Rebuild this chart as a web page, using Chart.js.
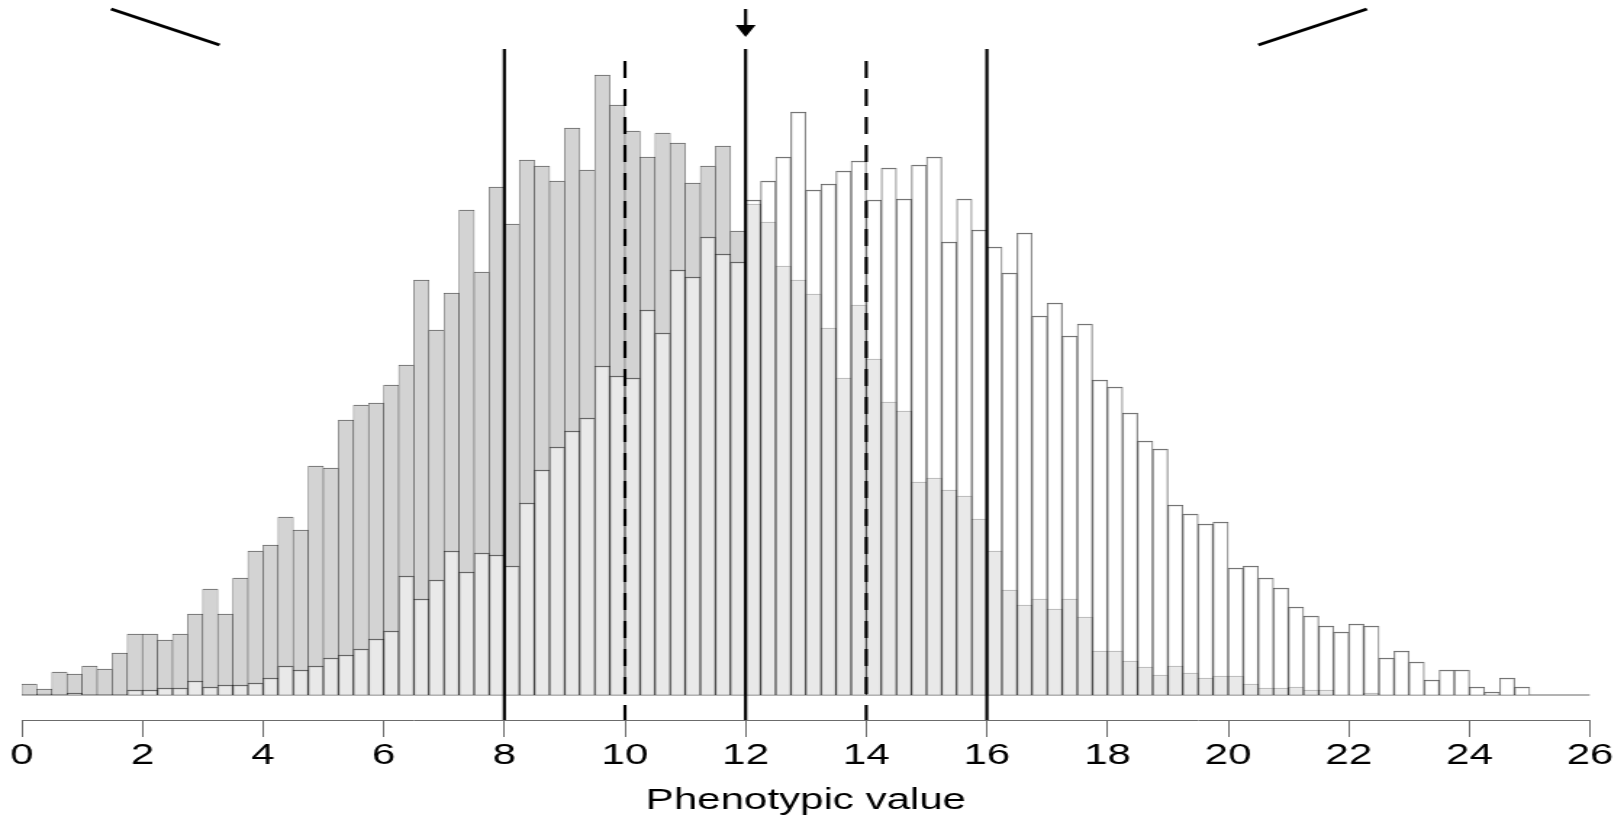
<!DOCTYPE html>
<html lang="en">
<head>
<meta charset="UTF-8">
<title>Phenotypic value</title>
<script src="https://cdn.jsdelivr.net/npm/chart.js"></script>
<style>
  html, body { margin: 0; padding: 0; background: #fff; }
</style>
</head>
<body>
<!-- the figure is stretched sideways, so draw narrow and widen with css -->
<canvas id="chart" width="1120" height="819" style="display:block;width:1624px;height:819px"></canvas>
<script>
// histogram bins, 0.25 wide, from 0 to 26
const binWidth = 0.25;

// grey population (left)
const groupLow = [
  11, 6, 23, 21, 29, 26, 42, 61, 61, 55, 61, 81, 106, 81, 117, 144, 150, 178, 165, 229,
  227, 275, 290, 292, 310, 330, 415, 365, 402, 485, 423, 508, 471, 535, 529, 514, 567, 525, 620, 590,
  564, 538, 562, 552, 512, 529, 549, 464, 491, 473, 429, 415, 401, 367, 317, 390, 336, 293, 284, 213,
  217, 205, 199, 176, 144, 105, 90, 96, 86, 96, 78, 44, 44, 34, 28, 20, 29, 22, 17, 19,
  19, 11, 7, 7, 8, 5, 5, 0, 0, 2, 0, 0, 0, 0, 0, 0, 0, 0, 0, 0,
  0, 0, 0, 0
];

// white population (right)
const groupHigh = [
  0, 1, 0, 2, 0, 0, 0, 5, 5, 7, 7, 14, 8, 10, 10, 12, 17, 29, 25, 29,
  37, 40, 46, 56, 64, 119, 96, 115, 144, 123, 142, 140, 129, 192, 225, 248, 264, 277, 329, 319,
  317, 385, 362, 425, 418, 458, 441, 433, 495, 514, 538, 583, 505, 511, 524, 534, 495, 527, 496, 530,
  538, 453, 496, 465, 448, 422, 462, 379, 392, 359, 371, 315, 308, 282, 254, 246, 190, 181, 171, 173,
  127, 129, 117, 107, 88, 79, 69, 63, 71, 69, 37, 44, 33, 15, 25, 25, 8, 3, 17, 8,
  0, 0, 0, 0
];

const xTicks = [0, 26, 2];           // min, max, step
const solidCuts = [8, 12, 16];
const dashedCuts = [10, 14];
const arrowAt = 12;

// heights in the same units as the counts
const floorY = -25;
const topY = 695;
const solidTop = 646;
const dashedTop = 634;
const arrowFrom = 686;
const arrowTo = 666;
const leftSlash = [[1.48, 686], [3.28, 650]];
const rightSlash = [[20.5, 650], [22.3, 686]];

const binCenters = groupLow.map((_, i) => (i + 0.5) * binWidth);
const toPoints = (vals) => vals.map((v, i) => ({ x: binCenters[i], y: v }));

const barEdge = 'rgba(0,0,0,0.62)';
const barBorder = { top: 1, left: 0.6, right: 0.6, bottom: 0 };

function vline(x, top, dash) {
  return {
    type: 'line',
    data: [{ x: x, y: top }, { x: x, y: floorY }],
    borderColor: '#000',
    borderWidth: 2.2,
    borderDash: dash,
    borderCapStyle: 'butt',
    pointRadius: 0,
    order: 0
  };
}

function slash(pts) {
  return {
    type: 'line',
    data: pts.map(p => ({ x: p[0], y: p[1] })),
    borderColor: '#000',
    borderWidth: 3,
    pointRadius: 0,
    order: 0
  };
}

const datasets = [
  {
    label: 'low',
    data: toPoints(groupLow),
    backgroundColor: '#d3d3d3',
    borderColor: barEdge,
    borderWidth: barBorder,
    grouped: false,
    barPercentage: 1,
    categoryPercentage: 1,
    order: 2
  },
  {
    label: 'high',
    data: toPoints(groupHigh),
    backgroundColor: 'rgba(255,255,255,0.5)',
    borderColor: barEdge,
    borderWidth: barBorder,
    grouped: false,
    barPercentage: 1,
    categoryPercentage: 1,
    order: 1
  },
  {
    type: 'line',
    data: [{ x: xTicks[0], y: 0 }, { x: xTicks[1], y: 0 }],
    borderColor: 'rgba(0,0,0,0.6)',
    borderWidth: 1,
    pointRadius: 0,
    order: 1
  },
  ...solidCuts.map(x => vline(x, solidTop, [])),
  ...dashedCuts.map(x => vline(x, dashedTop, [17, 11])),
  {
    type: 'line',
    data: [{ x: arrowAt, y: arrowFrom }, { x: arrowAt, y: arrowTo }],
    borderColor: '#000',
    borderWidth: 2.2,
    pointRadius: [0, 8],
    pointStyle: 'triangle',
    pointRotation: 180,
    pointBackgroundColor: '#000',
    pointBorderWidth: 0,
    order: 0
  },
  slash(leftSlash),
  slash(rightSlash)
];

Chart.defaults.font.family = "'Liberation Sans', Arial, sans-serif";
Chart.defaults.color = '#000';

new Chart(document.getElementById('chart'), {
  type: 'bar',
  data: { datasets: datasets },
  options: {
    responsive: false,
    devicePixelRatio: 1,
    animation: false,
    layout: { autoPadding: false, padding: { left: 15, right: 23.4, top: 0, bottom: 0 } },
    plugins: { legend: { display: false }, tooltip: { enabled: false } },
    scales: {
      x: {
        type: 'linear',
        min: xTicks[0],
        max: xTicks[1],
        offset: false,
        ticks: {
          stepSize: xTicks[2],
          color: '#000',
          padding: 2,
          maxRotation: 0,
          font: { size: 29 }
        },
        grid: {
          offset: false,
          drawOnChartArea: false,
          drawTicks: true,
          tickLength: 17,
          tickColor: '#6b6b6b',
          tickWidth: 1
        },
        border: { display: true, color: '#6b6b6b', width: 1 },
        title: {
          display: true,
          text: 'Phenotypic value',
          color: '#000',
          font: { size: 29, lineHeight: 1.2 },
          padding: { top: 0, bottom: 1 }
        },
        afterFit: (axis) => { axis.height = 99; }
      },
      y: {
        display: false,
        min: floorY,
        max: topY
      }
    }
  }
});
</script>
</body>
</html>
